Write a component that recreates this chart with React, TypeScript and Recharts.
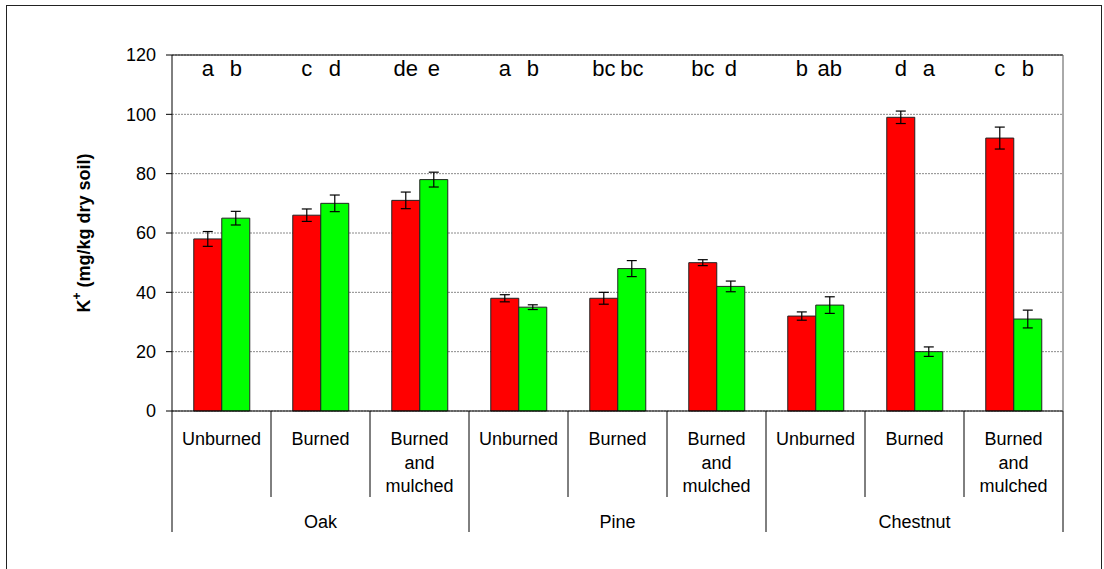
import {
  BarChart,
  Bar,
  XAxis,
  YAxis,
  CartesianGrid,
  ErrorBar,
  LabelList,
} from "recharts";

const treatments = [
  "Unburned",
  "Burned",
  "Burned and mulched",
  "Unburned",
  "Burned",
  "Burned and mulched",
  "Unburned",
  "Burned",
  "Burned and mulched",
];
const species = ["Oak", "Oak", "Oak", "Pine", "Pine", "Pine", "Chestnut", "Chestnut", "Chestnut"];

const redValues = [58, 66, 71, 38, 38, 50, 32, 99, 92];
const redErrors = [2.5, 2.1, 2.8, 1.2, 2.0, 1.0, 1.4, 2.1, 3.7];
const redLetters = ["a", "c", "de", "a", "bc", "bc", "b", "d", "c"];

const greenValues = [65, 70, 78, 35, 48, 42, 35.7, 20, 31];
const greenErrors = [2.3, 2.8, 2.5, 0.8, 2.7, 1.8, 2.8, 1.6, 3.0];
const greenLetters = ["b", "d", "e", "b", "bc", "d", "ab", "a", "b"];

const yTicks = [0, 20, 40, 60, 80, 100, 120];

const data = treatments.map((t, i) => ({
  id: i,
  treatment: t,
  species: species[i],
  red: redValues[i],
  redErr: redErrors[i],
  redLetter: redLetters[i],
  green: greenValues[i],
  greenErr: greenErrors[i],
  greenLetter: greenLetters[i],
}));

const WIDTH = 1104;
const HEIGHT = 569;
const MARGIN = { top: 54, right: 40, bottom: 0, left: 0 };
const PLOT_TOP = 55;
const Y_AXIS_WIDTH = 172;
const BAND = (WIDTH - 41 - Y_AXIS_WIDTH) / treatments.length;
const FONT = "'Liberation Sans', Arial, sans-serif";

// two-level category axis: treatment labels with short dividers, species with long ones
const CategoryTick = (props: any) => {
  const { x, y, payload, index } = props;
  const half = payload?.offset || BAND / 2;
  const words = treatments[index] === "Burned and mulched" ? ["Burned", "and", "mulched"] : [treatments[index]];
  const groupStart = index % 3 === 0;
  return (
    <g>
      <line x1={x - half} x2={x - half} y1={y} y2={y + (groupStart ? 121 : 86)} stroke="#000" />
      {index === treatments.length - 1 && (
        <line x1={x + half} x2={x + half} y1={y} y2={y + 121} stroke="#000" />
      )}
      <text x={x} y={y + 34} textAnchor="middle" fontSize={18} fill="#000" fontFamily={FONT}>
        {words.map((w, i) => (
          <tspan key={w} x={x} dy={i === 0 ? 0 : 23.5}>
            {w}
          </tspan>
        ))}
      </text>
      {index % 3 === 1 && (
        <text x={x} y={y + 117} textAnchor="middle" fontSize={18} fill="#000" fontFamily={FONT}>
          {species[index]}
        </text>
      )}
    </g>
  );
};

// significance letters sit in a row under the top of the plot
const letterLabel = (props: any) => {
  const { x, width, value } = props;
  return (
    <text
      x={x + width / 2}
      y={PLOT_TOP + 21}
      textAnchor="middle"
      fontSize={22}
      fill="#000"
      fontFamily={FONT}
    >
      {value}
    </text>
  );
};

const yLabel = (props: any) => {
  const { viewBox } = props;
  const cx = 84;
  const cy = viewBox.y + viewBox.height / 2;
  return (
    <text
      x={cx}
      y={cy}
      transform={`rotate(-90, ${cx}, ${cy})`}
      textAnchor="middle"
      dominantBaseline="central"
      fontSize={18}
      fontWeight="bold"
      fill="#000"
      fontFamily={FONT}
    >
      K<tspan dy={-7} fontSize={12}>+</tspan>
      <tspan dy={7}> (mg/kg dry soil)</tspan>
    </text>
  );
};

export default function App() {
  return (
    <div
      style={{
        position: "absolute",
        left: 0,
        top: 0,
        width: WIDTH,
        height: HEIGHT,
        background: "#fff",
        fontFamily: FONT,
        overflow: "hidden",
      }}
    >
      <div
        style={{
          position: "absolute",
          left: 6,
          top: 5,
          width: 1094,
          height: 580,
          border: "1px solid #222",
        }}
      />
      <BarChart
        width={WIDTH}
        height={HEIGHT}
        data={data}
        margin={MARGIN}
        barCategoryGap="22%"
        barGap={0}
        style={{ position: "absolute", left: 0, top: 0 }}
      >
        <CartesianGrid vertical={false} stroke="#8a8a8a" strokeDasharray="2 1" />
        <XAxis
          dataKey="id"
          height={158}
          axisLine={{ stroke: "#000" }}
          tickLine={false}
          tickSize={0}
          tickMargin={0}
          interval={0}
          tick={<CategoryTick />}
        />
        <XAxis
          xAxisId="top"
          dataKey="id"
          orientation="top"
          height={1}
          tick={false}
          tickLine={false}
          axisLine={{ stroke: "#000" }}
        />
        <YAxis
          width={Y_AXIS_WIDTH}
          domain={[0, 120]}
          ticks={yTicks}
          interval={0}
          tickSize={6}
          tickMargin={10}
          axisLine={{ stroke: "#000" }}
          tickLine={{ stroke: "#000" }}
          tick={{ fontSize: 18, fill: "#000", fontFamily: FONT }}
          label={yLabel}
        />
        <YAxis
          yAxisId="right"
          orientation="right"
          width={1}
          tick={false}
          tickLine={false}
          axisLine={{ stroke: "#555" }}
        />
        <Bar dataKey="red" fill="#ff0000" stroke="#222" strokeWidth={1} isAnimationActive={false}>
          <ErrorBar dataKey="redErr" width={5} stroke="#000" strokeWidth={1.2} />
          <LabelList dataKey="redLetter" content={letterLabel} />
        </Bar>
        <Bar dataKey="green" fill="#00ff00" stroke="#222" strokeWidth={1} isAnimationActive={false}>
          <ErrorBar dataKey="greenErr" width={5} stroke="#000" strokeWidth={1.2} />
          <LabelList dataKey="greenLetter" content={letterLabel} />
        </Bar>
      </BarChart>
    </div>
  );
}
